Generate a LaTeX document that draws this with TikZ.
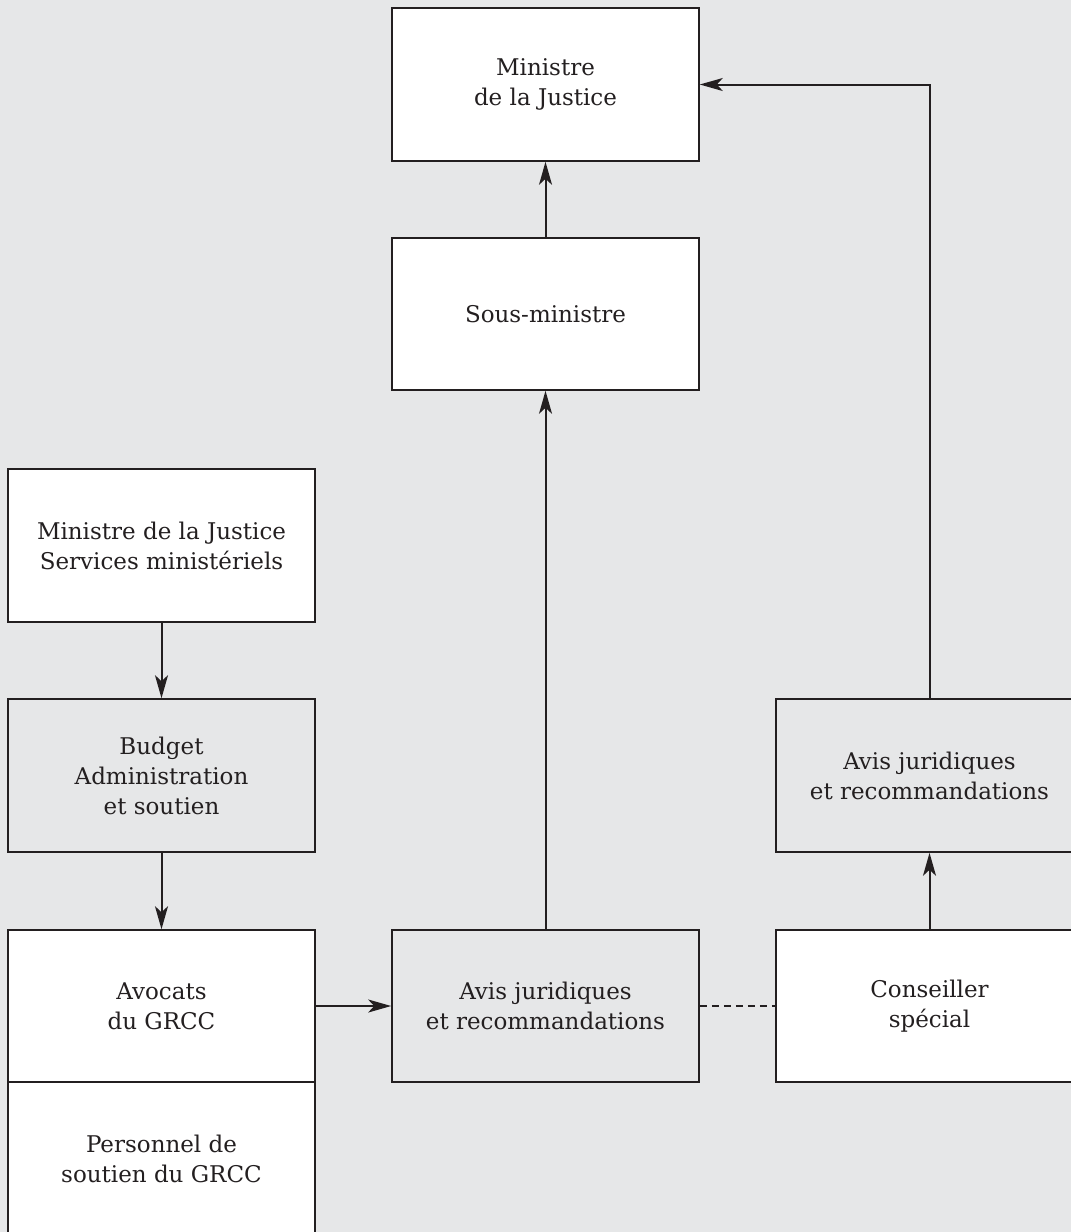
\documentclass[tikz,border=0pt]{standalone}
\usepackage{fontspec}
\setmainfont{DejaVu Serif}
\usetikzlibrary{arrows.meta}
\definecolor{bg}{HTML}{E6E7E8}
\definecolor{ink}{HTML}{231F20}
\tikzset{
  box/.style={draw=ink, line width=1.6pt, minimum width=307pt, minimum height=153pt, inner sep=0pt,
    align=center, text=ink, font=\fontsize{23}{30}\selectfont},
  wbox/.style={box, fill=white},
  gbox/.style={box, fill=bg},
  arr/.style={draw=ink, line width=2pt, -{Stealth[length=23pt,width=13pt,inset=6pt]}},
  dash line/.style={draw=ink, line width=2pt, dash pattern=on 7pt off 5pt}
}
\begin{document}
\begin{tikzpicture}[x=1pt,y=-1pt]
\useasboundingbox (0,0) rectangle (1071,1232);
\fill[bg] (0,0) rectangle (1071,1232);
\clip (0,0) rectangle (1071,1232);
\node[wbox] (min) at (545.5,84.5) {Ministre\\de la Justice};
\node[wbox, minimum height=152pt] (sous) at (545.5,314) {Sous-ministre};
\node[wbox] (serv) at (161.5,545.5) {Ministre de la Justice\\Services ministériels};
\node[gbox] (budg) at (161.5,775.5) {Budget\\Administration\\et soutien};
\node[wbox, minimum height=152pt] (avoc) at (161.5,1006) {Avocats\\du GRCC};
\node[wbox] (pers) at (161.5,1158.5) {Personnel de\\soutien du GRCC};
\node[gbox, minimum height=152pt] (avism) at (545.5,1006) {Avis juridiques\\et recommandations};
\node[wbox, minimum height=152pt] (cons) at (929.5,1006) {Conseiller\\spécial};
\node[gbox] (avisr) at (929.5,775.5) {Avis juridiques\\et recommandations};
\coordinate (corner) at (avisr.north |- min.east);
\draw[arr] (sous.north) -- (min.south);
\draw[arr] (avism.north) -- (sous.south);
\draw[arr] (avisr.north) -- (corner) -- (min.east);
\draw[arr] (cons.north) -- (avisr.south);
\draw[arr] (serv.south) -- (budg.north);
\draw[arr] (budg.south) -- (avoc.north);
\draw[arr] (avoc.east) -- (avism.west);
\draw[dash line] (avism.east) -- (cons.west);
\end{tikzpicture}
\end{document}
